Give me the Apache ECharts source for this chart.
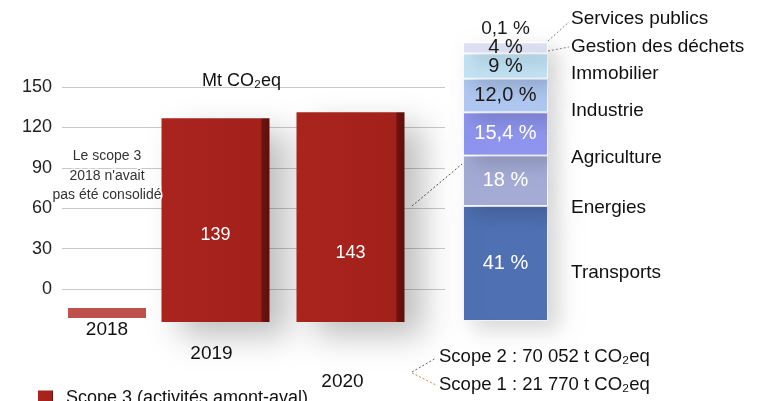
<!DOCTYPE html>
<html>
<head>
<meta charset="utf-8">
<script src="https://cdn.jsdelivr.net/npm/echarts@6/dist/echarts.min.js"></script>
<style>
html,body{margin:0;padding:0;background:#fff;}
#c{width:760px;height:401px;}
</style>
</head>
<body>
<div id="c"></div>
<script>
// ---- data ----
const years = ['2018', '2019', '2020'];
const scope3 = [0, 139, 143];
const scope3Name = 'Scope 3 (activités amont-aval)';
const yMin = 0, yMax = 150, yStep = 30;
const unitLabel = 'Mt CO₂eq';
const note2018 = "Le scope 3\n2018 n'avait\npas été consolidé";
const sectors = ['Transports', 'Energies', 'Agriculture', 'Industrie', 'Immobilier', 'Gestion des déchets', 'Services publics'];
const shares = [41, 18, 15.4, 12.0, 9, 4, 0.1];
const shareLabels = ['41 %', '18 %', '15,4 %', '12,0 %', '9 %', '4 %', '0,1 %'];
const scopeNotes = ['Scope 2 : 70 052 t CO₂eq', 'Scope 1 : 21 770 t CO₂eq'];

// ---- styles / layout ----
const FONT = '"Liberation Sans", Arial, Helvetica, sans-serif';
const sectorColors = ['#4f70b2', '#a4acd6', '#8f95ee', '#b0c8f2', '#c3e4f6', '#dde1f3', '#eceef8'];
const sectorLabelColors = ['#fff', '#fff', '#fff', '#1a1a1a', '#1a1a1a', '#1a1a1a', '#1a1a1a'];
const sectorNameY = [274, 209, 159, 112, 75, 48, 20];
const yearPad = { '2018': [0, 0, 0, 0], '2019': [0, 8, 0, 0], '2020': [28, 16, 0, 0] };
const valueLabelDistance = { '2019': 78, '2020': 60 };

const chart = echarts.init(document.getElementById('c'), null, { renderer: 'canvas' });

const redGrad = new echarts.graphic.LinearGradient(0, 0, 1, 0, [
  { offset: 0, color: '#a9241d' },
  { offset: 0.92, color: '#a3211b' },
  { offset: 0.93, color: '#6e130f' },
  { offset: 1, color: '#5e0f0c' }
]);

function yearRich() {
  const r = {};
  years.forEach(function (y) {
    r['y' + y] = { fontSize: 19, color: '#111', fontFamily: FONT, padding: yearPad[y] };
  });
  return r;
}
const yearFormatter = function (v) { return '{y' + v + '|' + v + '}'; };

// 2019-2020 bars (grid 1) and 2018 slab (grid 3)
const mainYears = years.slice(1);
const mainData = scope3.slice(1).map(function (v, i) {
  return { value: v, label: { distance: valueLabelDistance[mainYears[i]] } };
});

const series = [{
  name: scope3Name,
  type: 'bar',
  xAxisIndex: 1, yAxisIndex: 1,
  data: mainData,
  barWidth: 108,
  itemStyle: {
    color: redGrad,
    shadowBlur: 30, shadowColor: 'rgba(0,0,0,0.25)', shadowOffsetX: 18, shadowOffsetY: 14
  },
  label: {
    show: true, position: 'insideBottom',
    color: '#fff', fontSize: 18, fontFamily: FONT
  }
}, {
  name: scope3Name,
  type: 'bar',
  xAxisIndex: 3, yAxisIndex: 3,
  data: scope3.slice(0, 1),
  barWidth: 78,
  barMinHeight: 10,
  itemStyle: { color: '#b8423c', opacity: 0.92 },
  label: {
    show: true, position: 'top', distance: 103,
    formatter: note2018, color: '#222', fontSize: 14, lineHeight: 19.5,
    fontFamily: FONT, align: 'center',
    textBorderColor: '#fff', textBorderWidth: 3
  }
}];

sectors.forEach(function (s, i) {
  const top = i === sectors.length - 1;
  series.push({
    name: s,
    type: 'bar',
    stack: 'mix',
    xAxisIndex: 2, yAxisIndex: 2,
    barWidth: 85,
    data: [shares[i]],
    itemStyle: {
      color: sectorColors[i], borderColor: 'rgba(255,255,255,0.85)', borderWidth: 1,
      shadowBlur: 20, shadowColor: 'rgba(0,0,0,0.16)', shadowOffsetX: 10, shadowOffsetY: 8
    },
    label: {
      show: true,
      position: top ? 'top' : 'inside',
      distance: 3,
      formatter: shareLabels[i],
      color: sectorLabelColors[i],
      fontSize: top ? 19 : 20,
      fontFamily: FONT
    }
  });
});

const graphics = [];
sectors.forEach(function (s, i) {
  graphics.push({
    type: 'text', left: 571, top: sectorNameY[i] - 11,
    style: { text: s, fontSize: 19, fontFamily: FONT, fill: '#111' }
  });
});
const dot = { lineWidth: 1, lineDash: [2, 2] };
graphics.push({ type: 'line', shape: { x1: 548, y1: 41, x2: 569, y2: 22 }, style: Object.assign({ stroke: '#888' }, dot) });
graphics.push({ type: 'line', shape: { x1: 548, y1: 51, x2: 569, y2: 47 }, style: Object.assign({ stroke: '#888' }, dot) });
graphics.push({ type: 'line', shape: { x1: 412, y1: 206, x2: 462, y2: 164 }, style: Object.assign({ stroke: '#555' }, dot) });
graphics.push({ type: 'line', shape: { x1: 412, y1: 372, x2: 436, y2: 358 }, style: Object.assign({ stroke: '#666' }, dot) });
graphics.push({ type: 'line', shape: { x1: 412, y1: 373, x2: 436, y2: 385 }, style: Object.assign({ stroke: '#d9823f' }, dot) });
scopeNotes.forEach(function (t, i) {
  graphics.push({
    type: 'text', left: 439, top: (i === 0 ? 358 : 386) - 11,
    style: { text: t, fontSize: 18.5, fontFamily: FONT, fill: '#111' }
  });
});

chart.setOption({
  animation: false,
  backgroundColor: '#fff',
  title: {
    text: unitLabel, left: 197, top: 67,
    textStyle: { fontSize: 18, fontWeight: 'normal', color: '#111', fontFamily: FONT }
  },
  legend: {
    data: [scope3Name], left: 38, top: 389, padding: 0, icon: 'rect',
    itemWidth: 15, itemHeight: 15, itemGap: 10,
    textStyle: { fontSize: 18, color: '#111', fontFamily: FONT, padding: [0, 0, 0, 8] }
  },
  grid: [
    { left: 62, right: 315, top: 87, bottom: 112 },
    { left: 148, right: 342, top: 102, bottom: 79 },
    { left: 463, right: 212, top: 42, bottom: 80 },
    { left: 57, right: 603, top: 102, bottom: 83 }
  ],
  xAxis: [
    { gridIndex: 0, type: 'value', show: false },
    {
      gridIndex: 1, type: 'category', data: mainYears,
      axisLine: { show: false }, axisTick: { show: false },
      axisLabel: { margin: 22, interval: 0, formatter: yearFormatter, rich: yearRich() }
    },
    { gridIndex: 2, type: 'category', data: ['mix'], show: false },
    {
      gridIndex: 3, type: 'category', data: years.slice(0, 1),
      axisLine: { show: false }, axisTick: { show: false },
      axisLabel: { margin: 2, interval: 0, formatter: yearFormatter, rich: yearRich() }
    }
  ],
  yAxis: [
    {
      gridIndex: 0, type: 'value', min: yMin, max: yMax, interval: yStep,
      axisLine: { show: false }, axisTick: { show: false },
      axisLabel: { margin: 10, fontSize: 18, color: '#222', fontFamily: FONT },
      splitLine: { lineStyle: { color: '#c9c9c9', width: 1 } }
    },
    { gridIndex: 1, type: 'value', min: yMin, max: yMax, show: false, splitLine: { show: false } },
    { gridIndex: 2, type: 'value', min: 0, max: shares.reduce(function (a, b) { return a + b; }, 0), show: false, splitLine: { show: false } },
    { gridIndex: 3, type: 'value', min: yMin, max: yMax, show: false, splitLine: { show: false } }
  ],
  graphic: graphics,
  series: series
});
</script>
</body>
</html>
